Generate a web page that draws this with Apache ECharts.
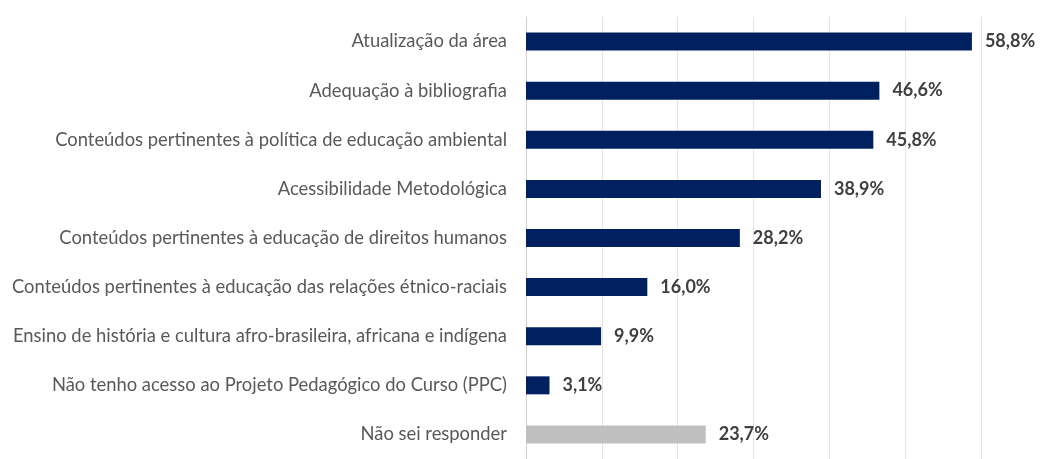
<!DOCTYPE html>
<html>
<head>
<meta charset="utf-8">
<script src="https://cdn.jsdelivr.net/npm/echarts@6/dist/echarts.min.js"></script>
<style>html,body{margin:0;padding:0;background:#fff}#c{width:1046px;height:459px}</style>
</head>
<body>
<div id="c"></div>
<script>
const categories = [
  "Atualização da área",
  "Adequação à bibliografia",
  "Conteúdos pertinentes à política de educação ambiental",
  "Acessibilidade Metodológica",
  "Conteúdos pertinentes à educação de direitos humanos",
  "Conteúdos pertinentes à educação das relações étnico-raciais",
  "Ensino de história e cultura afro-brasileira, africana e indígena",
  "Não tenho acesso ao Projeto Pedagógico do Curso (PPC)",
  "Não sei responder"
];
const values = [58.8, 46.6, 45.8, 38.9, 28.2, 16.0, 9.9, 3.1, 23.7];
const highlightIndex = 8;

const chart = echarts.init(document.getElementById('c'), null, {renderer: 'canvas'});
chart.setOption({
  animation: false,
  grid: {left: 526, right: 65, top: 17, bottom: -8, containLabel: false},
  xAxis: {
    type: 'value', min: 0, max: 60, interval: 10,
    axisLabel: {show: false}, axisLine: {show: false}, axisTick: {show: false},
    splitLine: {show: true, lineStyle: {color: '#e4e4e4', width: 1}}
  },
  yAxis: {
    type: 'category', inverse: true, data: categories,
    axisLine: {show: true, lineStyle: {color: '#d0d0d0', width: 1}},
    axisTick: {show: false},
    axisLabel: {color: '#595959', fontFamily: 'Lato', fontSize: 18.4, margin: 19}
  },
  series: [{
    type: 'bar',
    barWidth: 18,
    data: values.map((v, i) => ({value: v, itemStyle: {color: i === highlightIndex ? '#bfbfbf' : '#002060'}})),
    label: {
      show: true, position: 'right', distance: 13,
      color: '#404040', fontFamily: 'Lato', fontWeight: 'bold', fontSize: 18,
      formatter: p => p.value.toFixed(1).replace('.', ',') + '%'
    }
  }]
});
</script>
</body>
</html>
